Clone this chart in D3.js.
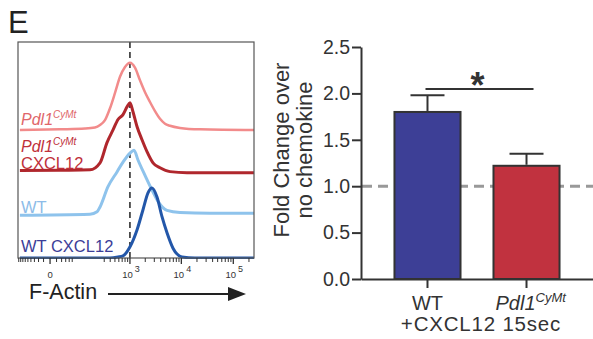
<!DOCTYPE html>
<html>
<head>
<meta charset="utf-8">
<script src="https://cdn.jsdelivr.net/npm/d3@7"></script>
<style>
  body { margin: 0; background: #fff; }
  svg { display: block; font-family: "Liberation Sans", Arial, sans-serif; }
</style>
</head>
<body>
<div class="container"></div>
<script>
// flow histograms (F-Actin), x = fluorescence, y = % of peak
var wtCxcl12 = [[-84,0],[396,0],[577,1.4],[728,3],[1003,16],[1378,40],[1807,69],[2261,93],[2707,100],[3383,87],[4228,59],[5283,36],[6900,14],[10300,1.5],[18300,0],[250000,0]];
var wt = [[-84,0],[146,1.5],[210,5],[244,12],[360,41],[551,62],[728,76],[1003,89],[1203,93],[1441,79],[1977,57],[2707,36],[3537,20],[5283,7],[9400,4],[35600,3],[250000,3]];
var pdl1Cxcl12 = [[-84,3],[17,3.5],[146,4],[244,14],[343,43],[457,61],[577,76],[728,83],[874,94],[1003,100],[1149,87],[1378,66],[1728,47],[2162,30],[2830,14],[3867,7],[6037,1.5],[12850,0],[250000,0]];
var pdl1 = [[-84,0],[17,1],[111,2],[189,3.5],[244,7],[311,14],[396,31],[502,53],[633,76],[798,90],[1003,96],[1258,89],[1577,71],[1977,54],[2473,40],[3093,27],[3867,16],[4834,9],[6037,6],[9400,3],[22900,1],[250000,0]];

var traces = [wtCxcl12, wt, pdl1Cxcl12, pdl1];
var traceColors = ["#2357a9", "#8ec3ec", "#b0272d", "#f28b8b"];
var labelColors = ["#3c3e98", "#8dbce8", "#c0303a", "#e0666a"];

var majorTicks = [0, 1e3, 1e4, 1e5];
var majorLabels = ["", "3", "4", "5"];
var minorTicks = [-90,-80,-70,-60,-50,-40,-30,-20,-10,10,20,30,40,50,300,400,500,600,700,800,900,
                  2000,3000,4000,5000,6000,7000,8000,9000,20000,30000,40000,50000,60000,70000,80000,90000,200000];

// bar chart
var groups = ["WT", "Pdl1"];
var means = [1.80, 1.22];
var sems = [0.18, 0.13];
var barColors = ["#3d3f96", "#c1323f"];
var yTicks = [0, 0.5, 1.0, 1.5, 2.0, 2.5];
var refLine = 1.0;

var svg = d3.select(".container").append("svg")
    .attr("width", 593)
    .attr("height", 339);

svg.append("text")
    .attr("x", 8).attr("y", 33)
    .style("font-size", "31px")
    .attr("fill", "#222")
    .text("E");

// ---------- left: histograms ----------
var x = d3.scaleSymlog().constant(30).domain([-94, 250000]).range([18, 254]);
var track = d3.scaleLinear().domain([0, 3]).range([258, 130]);
var h = d3.scaleLinear().domain([0, 100]).range([0, 70]);

svg.append("clipPath").attr("id", "box")
  .append("rect").attr("x", 18).attr("y", 42).attr("width", 236).attr("height", 217);

var left = svg.append("g");

left.append("line")
    .attr("x1", x(1000)).attr("x2", x(1000))
    .attr("y1", 42).attr("y2", 258)
    .attr("stroke", "#222")
    .attr("stroke-width", 1.5)
    .attr("stroke-dasharray", "6,4");

var plot = left.append("g").attr("clip-path", "url(#box)");
// draw top trace first so the lower ones sit on top
for (var i = traces.length - 1; i >= 0; i--) {
    var line = d3.line()
        .x(function(d) { return x(d[0]); })
        .y((function(k) { return function(d) { return track(k) - h(d[1]); }; })(i))
        .curve(d3.curveMonotoneX);
    plot.append("path")
        .datum(traces[i])
        .attr("d", line)
        .attr("fill", "none")
        .attr("stroke", traceColors[i])
        .attr("stroke-width", i == 3 ? 2.5 : 3)
        .attr("stroke-linejoin", "round");
}

left.append("rect")
    .attr("x", 18).attr("y", 42).attr("width", 236).attr("height", 216)
    .attr("fill", "none")
    .attr("stroke", "#555")
    .attr("stroke-width", 1.2);

// ticks under the box
left.selectAll(".minor").data(minorTicks).enter()
    .append("line")
    .attr("x1", function(d) { return x(d); }).attr("x2", function(d) { return x(d); })
    .attr("y1", 258).attr("y2", 262)
    .attr("stroke", "#333").attr("stroke-width", 1);
left.selectAll(".major").data(majorTicks).enter()
    .append("line")
    .attr("x1", function(d) { return x(d); }).attr("x2", function(d) { return x(d); })
    .attr("y1", 258).attr("y2", 264)
    .attr("stroke", "#333").attr("stroke-width", 1.3);

majorTicks.forEach(function(t, k) {
    var lab = left.append("text")
        .attr("x", x(t) + (k == 0 ? 0 : 1))
        .attr("y", 278)
        .attr("text-anchor", "middle")
        .attr("fill", "#333")
        .style("font-size", "9.5px");
    if (t == 0) {
        lab.text("0");
    } else {
        lab.append("tspan").text("10");
        lab.append("tspan").attr("dx", 2).attr("dy", -6).style("font-size", "9px").text(majorLabels[k]);
    }
});

// trace labels
function pdl1Label(sel) {
    sel.append("tspan").style("font-style", "italic").text("Pdl1");
    sel.append("tspan").style("font-style", "italic").style("font-size", "10px").attr("dy", -7).text("CyMt");
}
var lab0 = left.append("text").attr("x", 21).attr("y", track(3) - 5)
    .attr("fill", labelColors[3]).style("font-size", "16px");
pdl1Label(lab0);
var lab1 = left.append("text").attr("x", 21).attr("y", track(2) - 21)
    .attr("fill", labelColors[2]).style("font-size", "16px");
pdl1Label(lab1);
left.append("text").attr("x", 21).attr("y", track(2) - 4)
    .attr("fill", labelColors[2]).style("font-size", "16.5px").text("CXCL12");
left.append("text").attr("x", 21).attr("y", track(1) - 2)
    .attr("fill", labelColors[1]).style("font-size", "16.5px").text("WT");
left.append("text").attr("x", 21).attr("y", track(0) - 6)
    .attr("fill", labelColors[0]).style("font-size", "16.5px").text("WT CXCL12");

// F-Actin arrow
left.append("text").attr("x", 29).attr("y", 299)
    .attr("fill", "#222").style("font-size", "21.5px").text("F-Actin");
left.append("line")
    .attr("x1", 108).attr("x2", 232).attr("y1", 294).attr("y2", 294)
    .attr("stroke", "#222").attr("stroke-width", 2);
left.append("path")
    .attr("d", "M228,287L246,294L228,301Z")
    .attr("fill", "#222");

// ---------- right: bar chart ----------
var y = d3.scaleLinear().domain([0, 2.5]).range([279, 47]);
var xb = d3.scaleBand().domain(groups).range([361, 593]).paddingInner(0.333).paddingOuter(0.338);

var right = svg.append("g");

right.append("line")
    .attr("x1", 362).attr("x2", 593)
    .attr("y1", y(refLine)).attr("y2", y(refLine))
    .attr("stroke", "#999")
    .attr("stroke-width", 3)
    .attr("stroke-dasharray", "10,6");

right.selectAll(".bar").data(groups).enter()
    .append("rect")
    .attr("x", function(d) { return xb(d); })
    .attr("y", function(d, i) { return y(means[i]); })
    .attr("width", xb.bandwidth())
    .attr("height", function(d, i) { return y(0) - y(means[i]); })
    .attr("fill", function(d, i) { return barColors[i]; })
    .attr("stroke", "#333")
    .attr("stroke-width", 2);

groups.forEach(function(g, i) {
    var cx = xb(g) + xb.bandwidth() / 2;
    right.append("line")
        .attr("x1", cx).attr("x2", cx)
        .attr("y1", y(means[i]) - 1).attr("y2", y(means[i] + sems[i]))
        .attr("stroke", "#333").attr("stroke-width", 2);
    right.append("line")
        .attr("x1", cx - 17).attr("x2", cx + 17)
        .attr("y1", y(means[i] + sems[i])).attr("y2", y(means[i] + sems[i]))
        .attr("stroke", "#333").attr("stroke-width", 2);
});

var yAxis = right.append("g")
    .attr("transform", "translate(361,0)")
    .call(d3.axisLeft(y).tickValues(yTicks).tickFormat(d3.format(".1f")).tickSize(9).tickSizeOuter(0).tickPadding(2));
yAxis.select(".domain").attr("stroke", "#333").attr("stroke-width", 2);
yAxis.selectAll(".tick line").attr("stroke", "#333").attr("stroke-width", 2);
yAxis.selectAll(".tick text")
    .attr("fill", "#333")
    .style("font-size", "19.5px")
    .style("font-family", "Liberation Sans, Arial, sans-serif");

var xAxis = right.append("g")
    .attr("transform", "translate(0,279)")
    .call(d3.axisBottom(xb).tickSize(9).tickSizeOuter(0).tickFormat(""));
xAxis.select(".domain").attr("stroke", "#333").attr("stroke-width", 2);
xAxis.selectAll(".tick line").attr("stroke", "#333").attr("stroke-width", 2);

// axis titles
right.append("text")
    .attr("transform", "translate(289,150) rotate(-90)")
    .attr("text-anchor", "middle")
    .attr("fill", "#333")
    .style("font-size", "22px")
    .text("Fold Change over");
right.append("text")
    .attr("transform", "translate(312,150) rotate(-90)")
    .attr("text-anchor", "middle")
    .attr("fill", "#333")
    .style("font-size", "22px")
    .text("no chemokine");

right.append("text")
    .attr("x", xb("WT") + xb.bandwidth() / 2)
    .attr("y", 310)
    .attr("text-anchor", "middle")
    .attr("fill", "#333")
    .style("font-size", "20px")
    .text("WT");
var pLab = right.append("text")
    .attr("x", xb("Pdl1") + 2)
    .attr("y", 310)
    .attr("fill", "#333")
    .style("font-size", "20px");
pLab.append("tspan").style("font-style", "italic").text("Pdl1");
pLab.append("tspan").style("font-style", "italic").style("font-size", "13px").attr("dy", -8).text("CyMt");

right.append("text")
    .attr("x", 481)
    .attr("y", 331)
    .attr("text-anchor", "middle")
    .attr("fill", "#333")
    .style("font-size", "20.5px")
    .style("letter-spacing", "0.8px")
    .text("+CXCL12 15sec");

// significance
var sx1 = xb("WT") + xb.bandwidth() / 2 - 2;
var sx2 = xb("Pdl1") + xb.bandwidth() / 2 + 7;
right.append("line")
    .attr("x1", sx1).attr("x2", sx2)
    .attr("y1", 89).attr("y2", 89)
    .attr("stroke", "#333").attr("stroke-width", 2);
right.append("text")
    .attr("x", (sx1 + sx2) / 2 - 2)
    .attr("y", 98)
    .attr("text-anchor", "middle")
    .attr("fill", "#333")
    .style("font-size", "36px")
    .style("font-weight", "bold")
    .text("*");
</script>
</body>
</html>
